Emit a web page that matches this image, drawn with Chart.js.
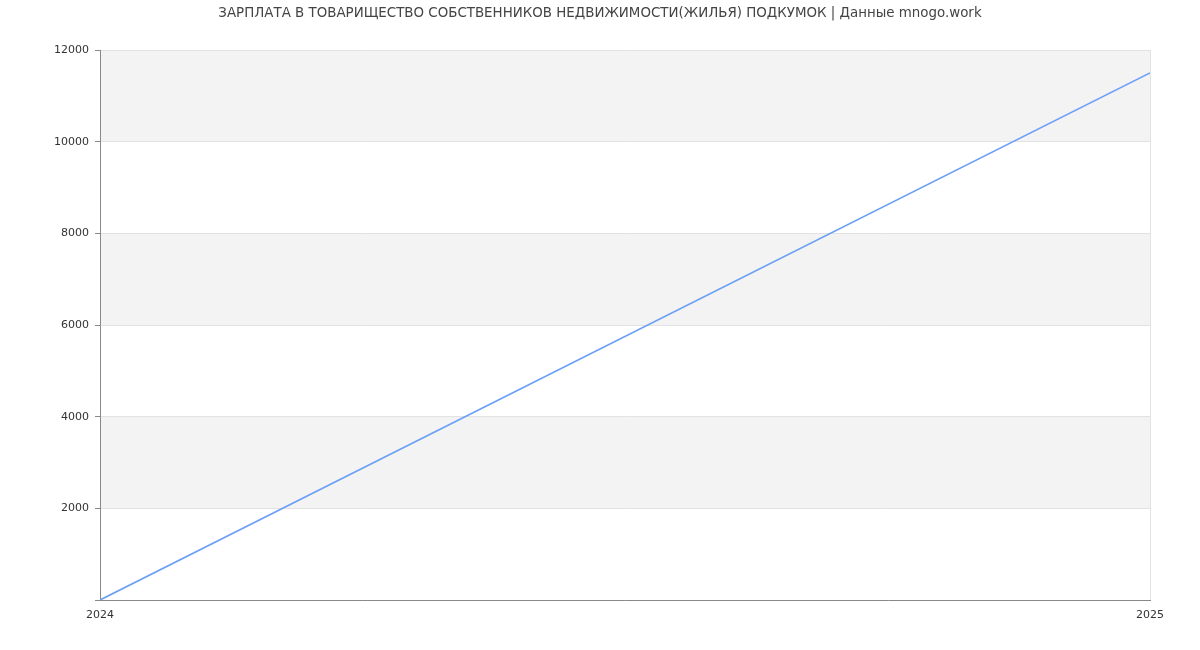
<!DOCTYPE html>
<html>
<head>
<meta charset="utf-8">
<script src="https://cdn.jsdelivr.net/npm/chart.js@4"></script>
<style>
  html, body { margin: 0; padding: 0; background: #fff; }
  #wrap { width: 1200px; height: 650px; }
</style>
</head>
<body>
<div id="wrap"><canvas id="salaryChart"></canvas></div>
<script>
const years = [2024, 2025];
const salary = [0, 11500];
const yTicks = [0, 2000, 4000, 6000, 8000, 10000, 12000];
const chartTitle = "ЗАРПЛАТА В ТОВАРИЩЕСТВО СОБСТВЕННИКОВ НЕДВИЖИМОСТИ(ЖИЛЬЯ) ПОДКУМОК | Данные mnogo.work";

// gray bands between every other pair of y ticks
const bandsPlugin = {
  id: "bands",
  beforeDraw(chart) {
    const { ctx, chartArea, scales } = chart;
    const ticks = scales.y.ticks;
    ctx.save();
    ctx.fillStyle = "#f3f3f3";
    for (let i = 1; i < ticks.length - 1; i += 2) {
      const top = scales.y.getPixelForValue(ticks[i + 1].value);
      const bottom = scales.y.getPixelForValue(ticks[i].value);
      ctx.fillRect(chartArea.left, top, chartArea.right - chartArea.left, bottom - top);
    }
    ctx.restore();
  },
};

Chart.defaults.font.family = "'DejaVu Sans', sans-serif";
Chart.defaults.color = "#333";

const ctx = document.getElementById("salaryChart").getContext("2d");
const salaryChart = new Chart(ctx, {
  type: "line",
  data: {
    datasets: [
      {
        data: years.map((y, i) => ({ x: y, y: salary[i] })),
        borderColor: "#6b9ff5",
        borderWidth: 1.7,
        pointRadius: 0,
        tension: 0,
        fill: false,
      },
    ],
  },
  options: {
    responsive: true,
    maintainAspectRatio: false,
    animation: false,
    layout: {
      padding: 0,
    },
    scales: {
      x: {
        type: "linear",
        min: years[0],
        max: years[years.length - 1],
        afterFit: function (scale) {
          scale.height = 50;
        },
        ticks: {
          stepSize: 1,
          padding: 9,
          font: { size: 11 },
          color: "#333",
          callback: function (value) {
            return String(value);
          },
        },
        grid: {
          color: "#e2e2e2",
          drawTicks: false,
        },
        border: { color: "#888", width: 1 },
      },
      y: {
        min: yTicks[0],
        max: yTicks[yTicks.length - 1],
        afterFit: function (scale) {
          scale.width = 100;
        },
        afterBuildTicks: function (scale) {
          scale.ticks = yTicks.map((v) => ({ value: v }));
        },
        ticks: {
          padding: 6,
          font: { size: 11 },
          color: "#333",
          callback: function (value) {
            return value === 0 ? "" : String(value);
          },
        },
        grid: {
          color: "#e2e2e2",
          tickColor: "#888",
          tickLength: 5,
        },
        border: { color: "#888", width: 1 },
      },
      // empty right-hand axis, only keeps space free on the right
      yRight: {
        position: "right",
        min: yTicks[0],
        max: yTicks[yTicks.length - 1],
        afterFit: function (scale) {
          scale.width = 50;
        },
        ticks: { display: false },
        grid: { display: false, drawTicks: false },
        border: { display: false },
      },
    },
    plugins: {
      legend: { display: false },
      tooltip: { enabled: false },
      title: {
        display: true,
        text: chartTitle,
        color: "#444",
        font: { size: 13.4, weight: "normal" },
        padding: { top: 5, bottom: 28.92 },
      },
    },
  },
  plugins: [bandsPlugin],
});
</script>
</body>
</html>
